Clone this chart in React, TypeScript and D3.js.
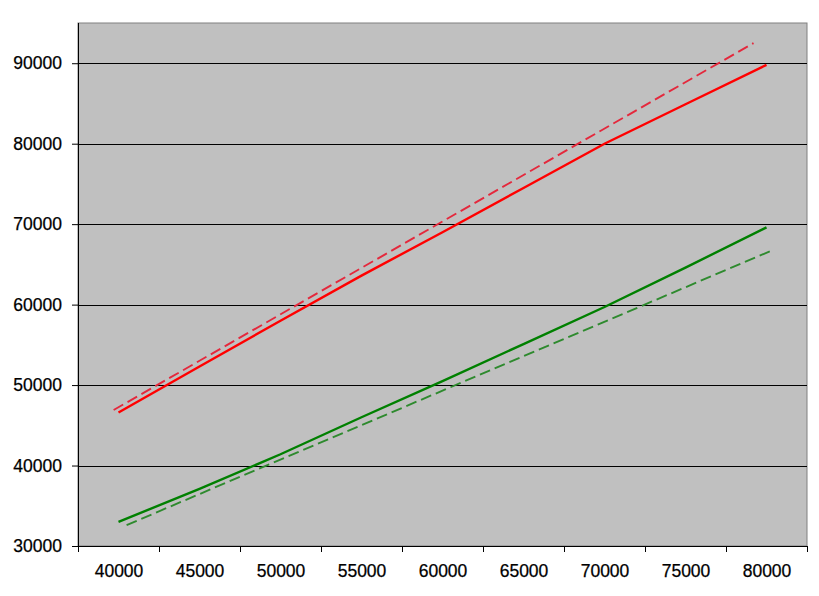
import { useEffect, useRef } from 'react';
import * as d3 from 'd3';

// categories along the x axis (Excel-style category axis)
const categories = [40000, 45000, 50000, 55000, 60000, 65000, 70000, 75000, 80000];

// solid series, one value per category
const redSolid = [46600, 52300, 58000, 63600, 69000, 74500, 80000, 84900, 89800];
const greenSolid = [33000, 37100, 41400, 46000, 50500, 55100, 59700, 64600, 69600];

// dashed reference lines (x, y in data units)
const redDashedX = [39700, 79200];
const redDashedY = [46900, 92500];
const greenDashedX = [40500, 80300];
const greenDashedY = [32600, 66700];

const yTicks = [30000, 40000, 50000, 60000, 70000, 80000, 90000];

const App = () => {
  const svgRef = useRef<SVGSVGElement>(null);
  const width = 819;
  const height = 596;

  useEffect(() => {
    if (!svgRef.current) return;
    const svg = d3.select(svgRef.current);
    svg.selectAll('*').remove();

    const margin = { top: 23, right: 12, bottom: 50, left: 78 };
    const innerWidth = width - margin.left - margin.right;
    const innerHeight = height - margin.top - margin.bottom;

    const step = 5000;
    const xScale = d3.scaleLinear()
      .domain([categories[0] - step / 2, categories[categories.length - 1] + step / 2])
      .range([0, innerWidth]);

    const yScale = d3.scaleLinear()
      .domain([30000, 95000])
      .range([innerHeight, 0]);

    const g = svg.append('g')
      .attr('transform', `translate(${margin.left},${margin.top})`);

    // plot area
    g.append('rect')
      .attr('x', 0)
      .attr('y', 0)
      .attr('width', innerWidth)
      .attr('height', innerHeight)
      .attr('fill', '#c0c0c0')
      .attr('stroke', '#808080')
      .attr('stroke-width', 1);

    // horizontal gridlines
    g.selectAll('.grid')
      .data(yTicks.slice(1))
      .join('line')
      .attr('class', 'grid')
      .attr('x1', 0)
      .attr('x2', innerWidth)
      .attr('y1', d => Math.round(yScale(d)) + 0.5)
      .attr('y2', d => Math.round(yScale(d)) + 0.5)
      .attr('stroke', '#000')
      .attr('stroke-width', 1);

    const labelStyle = (sel: any) => sel
      .style('font-family', '"Liberation Sans", Arial, sans-serif')
      .style('font-size', '17.5px')
      .style('fill', '#000')
      .style('stroke', '#000')
      .style('stroke-width', '0.25px');

    // y axis
    const yAxis = g.append('g')
      .call(d3.axisLeft(yScale).tickValues(yTicks).tickSize(6).tickPadding(10).tickFormat(d3.format('d')));
    labelStyle(yAxis.selectAll('text'));
    yAxis.select('.domain').attr('d', `M0.5,0V${innerHeight}`);

    // x axis: ticks on category boundaries
    const boundaries = d3.range(categories.length + 1).map(i => categories[0] - step / 2 + i * step);
    const xAxis = g.append('g')
      .attr('transform', `translate(0,${innerHeight})`)
      .call(d3.axisBottom(xScale).tickValues(boundaries).tickSize(6).tickFormat(() => ''));
    xAxis.select('.domain').attr('d', `M0,0.5H${innerWidth}`);

    // x labels centred on categories
    const xLabels = g.append('g')
      .attr('transform', `translate(0,${innerHeight})`)
      .call(d3.axisBottom(xScale).tickValues(categories).tickSize(0).tickPadding(19).tickFormat(d3.format('d')))
      .call(a => a.select('.domain').remove());
    labelStyle(xLabels.selectAll('text'));

    g.selectAll('.tick line').attr('stroke', '#000');
    g.selectAll('.domain').attr('stroke', '#000');

    const line = d3.line<[number, number]>()
      .x(d => xScale(d[0]))
      .y(d => yScale(d[1]));

    const series = [
      { pts: redDashedX.map((x, i) => [x, redDashedY[i]] as [number, number]), color: '#e4283c', width: 1.9, dash: '11,5' },
      { pts: greenDashedX.map((x, i) => [x, greenDashedY[i]] as [number, number]), color: '#2e8a2e', width: 1.9, dash: '11,5' },
      { pts: categories.map((c, i) => [c, redSolid[i]] as [number, number]), color: '#ff0000', width: 2.4, dash: null },
      { pts: categories.map((c, i) => [c, greenSolid[i]] as [number, number]), color: '#008000', width: 2.4, dash: null },
    ];

    g.selectAll('.series')
      .data(series)
      .join('path')
      .attr('class', 'series')
      .attr('d', d => line(d.pts))
      .attr('fill', 'none')
      .attr('stroke', d => d.color)
      .attr('stroke-width', d => d.width)
      .attr('stroke-dasharray', d => d.dash ?? null);
  }, []);

  return (
    <svg
      ref={svgRef}
      width={width}
      height={height}
      style={{ position: 'absolute', left: 0, top: 0, background: '#fff' }}
    />
  );
};

export default App;
